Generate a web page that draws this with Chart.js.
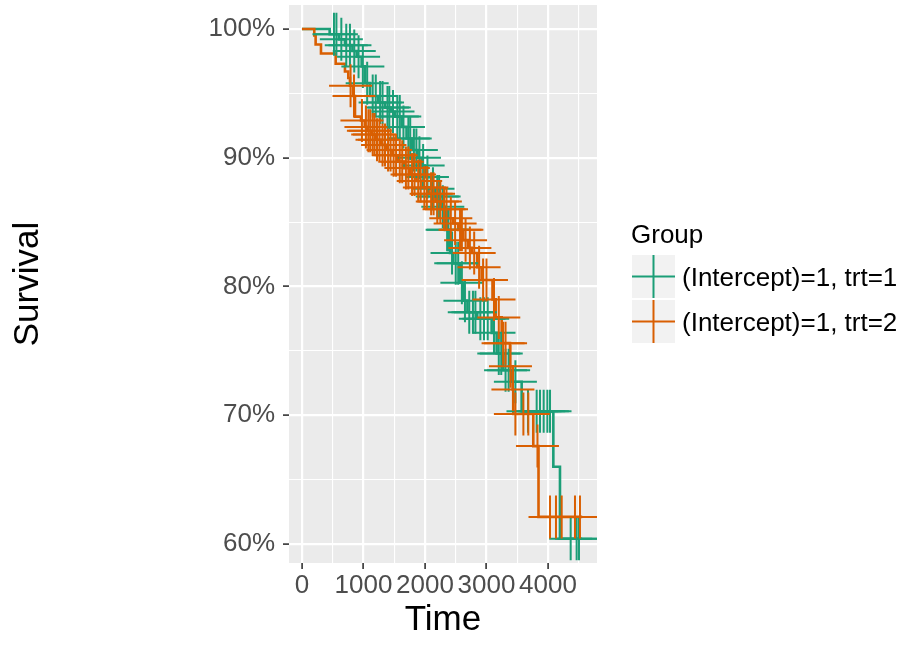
<!DOCTYPE html>
<html><head><meta charset="utf-8">
<script src="https://cdn.jsdelivr.net/npm/chart.js@4.4.0/dist/chart.umd.min.js"></script>
<style>
html,body{margin:0;padding:0;background:#fff;}
#wrap{position:relative;width:909px;height:645px;overflow:hidden;}
#c{position:absolute;left:0;top:0;}
.lg{position:absolute;font-family:'Liberation Sans',Arial,sans-serif;color:#000;white-space:nowrap;}
.key{position:absolute;left:632px;width:43px;height:43px;}
</style></head>
<body>
<div id="wrap">
<canvas id="c" width="909" height="645"></canvas>
<div class="lg" style="left:631px;top:221px;font-size:26px;line-height:26px;">Group</div>
<svg class="key" style="top:255px" width="43" height="43"><rect width="43" height="43" fill="#F2F2F2"/><line x1="0" y1="21.5" x2="43" y2="21.5" stroke="#1B9E77" stroke-width="2"/><line x1="21.5" y1="0" x2="21.5" y2="43" stroke="#1B9E77" stroke-width="2"/></svg>
<svg class="key" style="top:300px" width="43" height="43"><rect width="43" height="43" fill="#F2F2F2"/><line x1="0" y1="21.5" x2="43" y2="21.5" stroke="#D95F02" stroke-width="2"/><line x1="21.5" y1="0" x2="21.5" y2="43" stroke="#D95F02" stroke-width="2"/></svg>
<div class="lg" style="left:682px;top:264px;font-size:26px;line-height:26px;">(Intercept)=1, trt=1</div>
<div class="lg" style="left:682px;top:309px;font-size:26px;line-height:26px;">(Intercept)=1, trt=2</div>
</div>
<script>
// ---- data ----
const seriesNames = ['(Intercept)=1, trt=1', '(Intercept)=1, trt=2'];
const xTickLabels = [0, 1000, 2000, 3000, 4000];
const yTickLabels = [60, 70, 80, 90, 100];

// trt=1 Kaplan-Meier steps (time, survival %)
const stepTime1 = [0,450,600,699,820,889,970,1024,1106,1241,1350,1450,1512,1621,1700,1784,1880,1946,2000,2100,2163,2250,2325,2407,2461,2569,2623,2690,2850,3084,3165,3274,3420,3572,4087,4195,4556];
const stepSurv1 = [100,99.6,99.2,98.75,98.3,97.85,97.1,95.8,94.8,94.3,93.9,93.6,93.2,92.4,91.5,90.6,90.0,89.4,88.5,87.6,87.0,86.2,84.4,82.6,81.8,80.3,78.9,78.0,77.5,76.4,74.8,73.5,72.6,70.3,66.0,60.4,60.4];
// trt=1 censoring marks
const censTime1 = [520,560,640,720,780,850,920,990,1060,1150,1200,1270,1310,1390,1420,1480,1550,1590,1650,1730,1760,1820,1860,1910,1970,2040,2130,2200,2230,2290,2360,2380,2440,2500,2540,2600,2650,2720,2780,2820,2900,2960,3020,3122,3200,3240,3310,3360,3470,3675,3816,3870,3930,3990,4033,4369,4466,4504];
const censSurv1 = [99.6,99.6,99.2,98.75,98.75,98.3,97.85,97.1,95.8,94.8,94.8,94.3,94.3,93.9,93.9,93.6,93.2,93.2,92.4,91.5,91.5,90.6,90.6,90.0,89.4,88.5,87.6,87.0,87.0,86.2,84.4,84.4,82.6,81.8,81.8,80.3,78.9,78.0,78.0,78.0,77.5,77.5,77.5,76.4,74.8,74.8,73.5,73.5,72.6,70.3,70.3,70.3,70.3,70.3,70.3,60.4,60.4,60.4];

// trt=2 Kaplan-Meier steps
const stepTime2 = [0,200,222,309,548,699,753,780,830,862,960,1020,1060,1130,1200,1290,1380,1470,1560,1660,1760,1860,1960,2060,2170,2280,2380,2460,2540,2623,2700,2760,2850,2921,3098,3150,3247,3382,3426,3436,3761,3846,4556];
const stepSurv2 = [100,99.5,98.8,98.1,97.3,96.7,96.2,95.6,94.8,93.2,92.9,92.4,92.1,91.8,91.4,91.0,90.6,90.2,89.7,89.2,88.7,88.2,87.7,87.2,86.6,86.0,85.3,84.9,84.4,83.6,83.0,82.6,81.5,80.5,79.0,77.6,75.6,73.8,72.0,70.1,67.6,62.1,62.1];
// trt=2 censoring marks
const censTime2 = [790,846,975,1040,1080,1110,1150,1180,1220,1260,1310,1350,1400,1440,1490,1530,1590,1630,1690,1730,1790,1830,1890,1930,1990,2030,2100,2140,2200,2250,2310,2350,2420,2490,2570,2600,2660,2730,2800,2880,2945,3000,3122,3200,3270,3310,3390,3430,3470,3600,3680,3829,4033,4130,4223,4439,4520];
const censSurv2 = [95.6,94.8,92.9,92.4,92.1,92.1,91.8,91.8,91.4,91.4,91.0,91.0,90.6,90.6,90.2,90.2,89.7,89.7,89.2,89.2,88.7,88.7,88.2,88.2,87.7,87.7,87.2,87.2,86.6,86.6,86.0,86.0,85.3,84.9,84.4,84.4,83.6,83.0,82.6,81.5,80.5,80.5,79.0,77.6,75.6,75.6,73.8,72.0,70.1,70.1,70.1,67.6,62.1,62.1,62.1,62.1,62.1];

const colors = ['#1B9E77', '#D95F02'];
const xMinorTicks = [500,1500,2500,3500,4500];
const yMinorTicks = [65,75,85,95];

// ---- build ----
const pts = (t, s) => t.map((v, i) => ({x: v, y: s[i]}));
const FONT = "'Liberation Sans', Arial, sans-serif";

const bgPlugin = {
  id: 'panelBg',
  beforeDraw(chart) {
    const {ctx, chartArea: a} = chart;
    ctx.save();
    ctx.fillStyle = '#EBEBEB';
    ctx.fillRect(a.left, a.top, a.right - a.left, a.bottom - a.top);
    ctx.restore();
  }
};

const crossDs = (t, s, c) => ({
  data: pts(t, s), showLine: false, pointStyle: 'cross', pointRadius: 21.5,
  pointBorderWidth: 2, pointBorderColor: c, pointBackgroundColor: c, pointHoverRadius: 21.5, clip: 0
});
const lineDs = (t, s, c) => ({
  data: pts(t, s), showLine: true, stepped: true, borderColor: c, borderWidth: 2.6,
  pointRadius: 0, pointHoverRadius: 0, fill: false, clip: 0
});

new Chart(document.getElementById('c'), {
  type: 'scatter',
  data: {
    datasets: [
      Object.assign(crossDs(censTime2, censSurv2, colors[1]), {label: seriesNames[1]}),
      Object.assign(crossDs(censTime1, censSurv1, colors[0]), {label: seriesNames[0]}),
      Object.assign(lineDs(stepTime2, stepSurv2, colors[1]), {label: seriesNames[1]}),
      Object.assign(lineDs(stepTime1, stepSurv1, colors[0]), {label: seriesNames[0]})
    ]
  },
  options: {
    responsive: false, animation: false, devicePixelRatio: 1,
    layout: {autoPadding: false, padding: {left: 0, right: 312, top: 5, bottom: 0}},
    plugins: {legend: {display: false}, tooltip: {enabled: false}},
    events: [],
    scales: {
      x: {
        type: 'linear', min: -211, max: 4797,
        afterBuildTicks: s => { s.ticks = xTickLabels.concat(xMinorTicks).sort((a,b)=>a-b).map(v => ({value: v})); },
        afterFit: s => { s.height = 82; s.paddingLeft = 0; s.paddingRight = 0; },
        ticks: {
          autoSkip: false, maxRotation: 0, padding: 1, color: '#4D4D4D',
          font: {family: FONT, size: 26},
          callback: v => xTickLabels.includes(v) ? String(v) : ''
        },
        grid: {
          color: '#FFFFFF',
          lineWidth: c => xTickLabels.includes(c.tick && c.tick.value) ? 2.2 : 1.1,
          tickColor: c => xTickLabels.includes(c.tick && c.tick.value) ? '#333333' : 'rgba(0,0,0,0)',
          tickWidth: 1.6, tickLength: 6, drawTicks: true
        },
        border: {display: false},
        title: {display: true, text: 'Time', color: '#000', font: {family: FONT, size: 35, lineHeight: 1.2}, padding: {top: 0, bottom: 4}}
      },
      y: {
        type: 'linear', min: 58.52, max: 101.87,
        afterBuildTicks: s => { s.ticks = yTickLabels.concat(yMinorTicks).sort((a,b)=>a-b).map(v => ({value: v})); },
        afterFit: s => { s.width = 289; s.paddingTop = 0; s.paddingBottom = 0; },
        ticks: {
          autoSkip: false, padding: 8, color: '#4D4D4D',
          font: {family: FONT, size: 26},
          callback: v => yTickLabels.includes(v) ? v + '%' : ''
        },
        grid: {
          color: '#FFFFFF',
          lineWidth: c => yTickLabels.includes(c.tick && c.tick.value) ? 2.2 : 1.1,
          tickColor: c => yTickLabels.includes(c.tick && c.tick.value) ? '#333333' : 'rgba(0,0,0,0)',
          tickWidth: 1.6, tickLength: 6, drawTicks: true
        },
        border: {display: false},
        title: {display: true, text: 'Survival', color: '#000', font: {family: FONT, size: 35, lineHeight: 1.2}, padding: {top: 7, bottom: 0}}
      }
    }
  },
  plugins: [bgPlugin]
});
</script>
</body></html>
